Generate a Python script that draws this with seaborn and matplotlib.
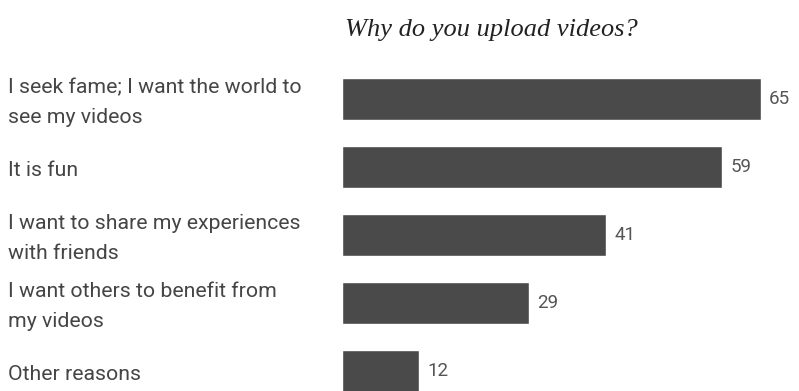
import matplotlib
matplotlib.use("Agg")
import matplotlib.pyplot as plt
import seaborn as sns
import pandas as pd

categories = [
    "I seek fame; I want the world to\nsee my videos",
    "It is fun",
    "I want to share my experiences\nwith friends",
    "I want others to benefit from\nmy videos",
    "Other reasons",
]
values = [65, 59, 41, 29, 12]
title = "Why do you upload videos?"

sns.set_theme(style="white")
plt.rcParams["font.family"] = ["Roboto", "DejaVu Sans"]

df = pd.DataFrame({"reason": categories, "pct": values})

W, H = 799, 391
fig = plt.figure(figsize=(W / 100, H / 100), dpi=100)
ax = fig.add_axes([342 / W, 0, (W - 342) / W, 1])
sns.barplot(data=df, x="pct", y="reason", orient="h", color="#4a4a4a",
            saturation=1, width=0.62, ax=ax)

px_per_unit = 419 / 65
ax.set_xlim(0, (W - 342) / px_per_unit)
y_top = (0 - 99) / 68
y_bot = (H - 99) / 68
ax.set_ylim(y_bot, y_top)
ax.axis("off")

for i, (c, v) in enumerate(zip(categories, values)):
    ax.text(v + 8 / px_per_unit, i, str(v), va="center", ha="left",
            fontsize=13.5, color="#555555")
    fig.text(8 / W, 1 - (102.5 + 68 * i) / H, c, ha="left", va="center",
             fontsize=15.3, color="#454545", linespacing=1.75)

fig.text(345 / W, 1 - 30 / H, title, ha="left", va="center",
         fontsize=19, style="italic", family="Liberation Serif", color="#222222")

fig.savefig("out.png", dpi=100)
